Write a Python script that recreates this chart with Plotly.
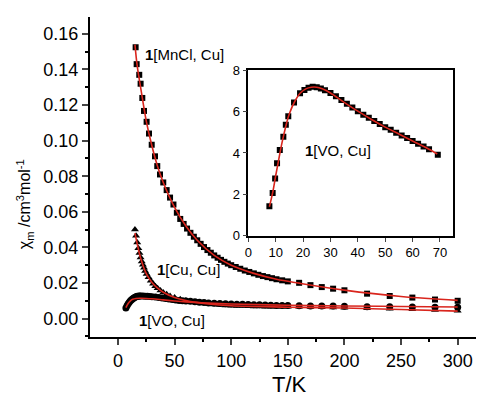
import plotly.graph_objects as go

# ---------------- data ----------------
mn_T = [15.6, 16.5, 18.8, 20, 21.5, 23, 25.3, 27.4, 29.8, 32.7, 34.7, 37.1, 40, 43, 46, 49, 52, 55, 58, 61,
        64, 67, 70, 73, 76, 79, 82, 85, 88, 91, 94, 97, 100, 104, 108, 112, 116, 120, 124, 128, 132, 136,
        140, 145, 150, 160, 170, 180, 190, 200, 220, 240, 260, 280, 300]
mn_chi = [0.1525, 0.143, 0.137, 0.132, 0.124, 0.1167, 0.1106, 0.104, 0.0977, 0.0912, 0.0857, 0.081, 0.0765,
          0.0722, 0.068, 0.0641, 0.0595, 0.056, 0.0532, 0.0506, 0.0482, 0.046, 0.044, 0.042, 0.0402, 0.0385,
          0.037, 0.0355, 0.0342, 0.033, 0.0319, 0.0309, 0.03, 0.029, 0.028, 0.027, 0.0262, 0.0254, 0.0246,
          0.0239, 0.0233, 0.0227, 0.0221, 0.0215, 0.0209, 0.0201, 0.0188, 0.0177, 0.0168, 0.0159, 0.014,
          0.0127, 0.0118, 0.0107, 0.01]
mn_fit_T = [15, 17, 20, 25, 30, 35, 40, 50, 60, 70, 85, 100, 120, 140, 160, 200, 250, 300]
mn_fit = [0.154, 0.142, 0.13, 0.111, 0.097, 0.0855, 0.0765, 0.0625, 0.052, 0.044, 0.0355, 0.03, 0.0254,
          0.0221, 0.0199, 0.016, 0.0124, 0.0102]

cu_T = [15, 16, 17, 18, 19, 20, 21, 22, 23, 24, 25.3, 27, 29, 31, 33, 35, 37.5, 40, 43, 46, 50, 55, 60, 65,
        70, 75, 80, 85, 90, 95, 100, 105, 110, 115, 120, 125, 130, 135, 140, 145, 150, 160, 170, 180, 190,
        200, 220, 240, 260, 280, 300]
cu_chi = [0.05, 0.0465, 0.0428, 0.0395, 0.0368, 0.0343, 0.0321, 0.0302, 0.0285, 0.0268, 0.025, 0.0232,
          0.0213, 0.0195, 0.0182, 0.017, 0.0158, 0.0147, 0.0137, 0.0127, 0.0118, 0.0109, 0.0102, 0.0095,
          0.009, 0.0086, 0.0082, 0.0079, 0.0076, 0.0074, 0.0072, 0.0071, 0.007, 0.0069, 0.0068, 0.0068,
          0.0067, 0.0067, 0.0066, 0.0066, 0.0066, 0.0066, 0.0065, 0.0063, 0.0062, 0.0061, 0.0058, 0.0055,
          0.0052, 0.0048, 0.0044]
cu_fit_T = [15, 17, 20, 25, 30, 35, 40, 50, 60, 80, 100, 150, 200, 250, 300]
cu_fit = [0.048, 0.042, 0.034, 0.0252, 0.0203, 0.0171, 0.0148, 0.0118, 0.0101, 0.0082, 0.0072, 0.0064,
          0.0059, 0.0051, 0.0042]

vo_T = [7, 8, 9, 10, 11, 12, 13, 14, 15, 16, 17, 18, 19, 20, 22, 24, 26, 28, 30, 33, 36, 39, 42, 45, 48,
        51, 54, 57, 60, 64, 68, 72, 76, 80, 85, 90, 95, 100, 105, 110, 115, 120, 125, 130, 135, 140, 145,
        150, 160, 170, 180, 190, 200, 220, 240, 260, 280, 300]
vo_chi = [0.006, 0.0072, 0.0083, 0.0092, 0.01, 0.0106, 0.0111, 0.0116, 0.012, 0.0123, 0.0125, 0.0126,
          0.0127, 0.0127, 0.0127, 0.0126, 0.0125, 0.0124, 0.0123, 0.0121, 0.0119, 0.0116, 0.0113, 0.011,
          0.0107, 0.0104, 0.0102, 0.01, 0.0099, 0.0097, 0.0095, 0.0092, 0.009, 0.0088, 0.0086, 0.0084,
          0.0083, 0.0082, 0.0081, 0.008, 0.0079, 0.0078, 0.0077, 0.0076, 0.0075, 0.0074, 0.0074, 0.0073,
          0.0072, 0.0071, 0.007, 0.007, 0.0069, 0.0067, 0.0066, 0.0065, 0.0064, 0.0063]
vo_fit_T = [7, 9, 11, 13, 16, 20, 25, 30, 40, 50, 60, 80, 100, 150, 200, 250, 300]
vo_fit = [0.0062, 0.0085, 0.01, 0.0108, 0.0113, 0.0114, 0.0113, 0.0111, 0.0105, 0.0099, 0.0094, 0.0087,
          0.0082, 0.0075, 0.0071, 0.0068, 0.0065]

in_T = [7.7, 8.9, 9.8, 10.5, 11.5, 12.8, 13.7, 14.6, 16.7, 18.9, 20.5, 22, 23.5, 25, 26.5, 28, 30, 32, 34,
        36, 38, 40, 42, 44, 46, 48, 50, 52, 54, 56, 58, 60, 62, 64, 66, 69.2]
in_val = [1.43, 2.07, 2.77, 3.5, 4.15, 4.78, 5.36, 5.77, 6.44, 6.89, 7.05, 7.15, 7.2, 7.18, 7.12, 7.03, 6.9,
          6.74, 6.56, 6.38, 6.2, 6.02, 5.85, 5.7, 5.55, 5.4, 5.25, 5.12, 4.98, 4.85, 4.72, 4.58, 4.45, 4.32,
          4.18, 3.92]
in_fit_T = [7.7, 9, 10, 11, 12, 13, 14, 15, 17, 19, 21, 23, 25, 27, 30, 35, 40, 45, 50, 55, 60, 65, 69]
in_fit = [1.4, 2.15, 2.9, 3.6, 4.3, 4.9, 5.45, 5.9, 6.5, 6.9, 7.1, 7.18, 7.18, 7.1, 6.9, 6.45, 6.02, 5.62,
          5.25, 4.92, 4.58, 4.25, 3.95]

x_ticks = [0, 50, 100, 150, 200, 250, 300]
y_ticks = [0.00, 0.02, 0.04, 0.06, 0.08, 0.10, 0.12, 0.14, 0.16]
in_x_ticks = [0, 10, 20, 30, 40, 50, 60, 70]
in_y_ticks = [0, 2, 4, 6, 8]

RED = "#d9251d"
FONT = "Liberation Sans, Arial, sans-serif"

fig = go.Figure()

def markers(x, y, sym, size):
    fig.add_trace(go.Scatter(x=x, y=y, mode="markers",
                             marker=dict(symbol=sym, size=size, color="black", line=dict(width=0)),
                             showlegend=False))

def fit(x, y, xa="x", ya="y"):
    fig.add_trace(go.Scatter(x=x, y=y, mode="lines", line=dict(color=RED, width=1.6, shape="spline"),
                             xaxis=xa, yaxis=ya, showlegend=False))

markers(mn_T, mn_chi, "square", 6)
markers(cu_T, cu_chi, "triangle-up", 7)
markers(vo_T, vo_chi, "circle", 7)
fit(mn_fit_T, mn_fit)
fit(cu_fit_T, cu_fit)
fit(vo_fit_T, vo_fit)

fig.add_trace(go.Scatter(x=in_T, y=in_val, mode="markers", xaxis="x2", yaxis="y2",
                         marker=dict(symbol="square", size=6, color="black", line=dict(width=0)),
                         showlegend=False))
fit(in_fit_T, in_fit, "x2", "y2")

# page has an 8px body margin, so the figure is drawn 8px right/down
fig.update_layout(
    width=476, height=388,
    margin=dict(l=82, r=2, t=4, b=59),
    paper_bgcolor="white", plot_bgcolor="white",
    font=dict(family=FONT, color="black"),
    xaxis=dict(range=[-24.7, 321.5], tickvals=x_ticks, ticks="outside", ticklen=6, tickwidth=1.5,
               showline=True, linecolor="black", linewidth=2, showgrid=False, zeroline=False,
               tickfont=dict(size=18), minor=dict(dtick=25, tick0=0, ticks="outside", ticklen=3,
                                                  tickwidth=1.5, tickcolor="black")),
    yaxis=dict(range=[-0.01036, 0.1695], tickvals=y_ticks, tickformat=".2f", ticks="outside", ticklen=6,
               tickwidth=1.5, showline=True, linecolor="black", linewidth=2, showgrid=False,
               zeroline=False, tickfont=dict(size=18),
               minor=dict(dtick=0.01, tick0=0, ticks="outside", ticklen=3, tickwidth=1.5,
                          tickcolor="black")),
    xaxis2=dict(domain=[0.4038, 0.925], anchor="y2", range=[0, 74.6], tickvals=in_x_ticks,
                ticks="outside", ticklen=4, tickwidth=1, showline=True, mirror=True, linecolor="black",
                linewidth=1.5, showgrid=False, zeroline=False, tickfont=dict(size=13)),
    yaxis2=dict(domain=[0.3163, 0.8337], anchor="x2", range=[0, 8], tickvals=in_y_ticks,
                ticks="outside", ticklen=4, tickwidth=1, showline=True, mirror=True, linecolor="black",
                linewidth=1.5, showgrid=False, zeroline=False, tickfont=dict(size=13)),
)

ann = [
    dict(x=22, y=0.1485, xref="x", yref="y", text="<b>1</b>[MnCl, Cu]", xanchor="left", yanchor="middle"),
    dict(x=32.7, y=0.0277, xref="x", yref="y", text="<b>1</b>[Cu, Cu]", xanchor="left", yanchor="middle"),
    dict(x=16.5, y=-0.0011, xref="x", yref="y", text="<b>1</b>[VO, Cu]", xanchor="left", yanchor="middle"),
    dict(x=20, y=4.1, xref="x2", yref="y2", text="<b>1</b>[VO, Cu]", xanchor="left", yanchor="middle"),
]
for a in ann:
    fig.add_annotation(showarrow=False, font=dict(size=15, family=FONT, color="black"), **a)

fig.add_annotation(x=0.508, y=-0.149, xref="paper", yref="paper", text="T/K", showarrow=False,
                   font=dict(size=22, family=FONT, color="black"), xanchor="center", yanchor="middle")
fig.add_annotation(x=-0.166, y=0.415, xref="paper", yref="paper",
                   text="χ<sub>m</sub> /cm<sup>3</sup>mol<sup>-1</sup>", textangle=-90, showarrow=False,
                   font=dict(size=16, family=FONT, color="black"), xanchor="center", yanchor="middle")

fig.write_html("out.html")
